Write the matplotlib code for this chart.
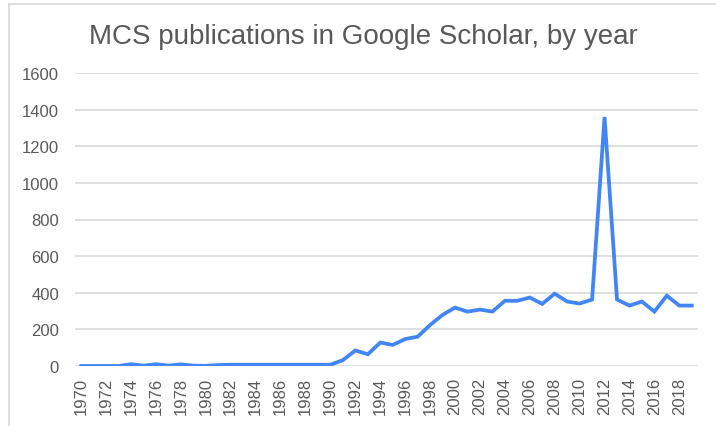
import matplotlib.pyplot as plt
from matplotlib.lines import Line2D

years = list(range(1970, 2020))
pubs = [0, 0, 0, 0, 10, 2, 10, 2, 9, 2,
        1, 5, 7, 7, 7, 7, 7, 7, 7, 7,
        7, 32, 85, 64, 128, 115, 147, 160, 224, 279,
        319, 297, 308, 297, 356, 356, 374, 339, 395, 352,
        341, 363, 1360, 363, 330, 352, 297, 384, 330, 330]
yticks = [0, 200, 400, 600, 800, 1000, 1200, 1400, 1600]

plt.rcParams['font.family'] = ['Liberation Sans', 'DejaVu Sans']
grey = '#595959'

W, H = 716, 427
fig = plt.figure(figsize=(W / 100, H / 100), dpi=100)
ax = fig.add_axes([75 / W, 1 - 367 / H, (698 - 75) / W, (367 - 74) / H])

x = list(range(len(years)))
ax.plot(x, pubs, color='#4285F4', linewidth=2.7, solid_joinstyle='miter', zorder=3)

ax.set_xlim(-0.5, len(years) - 0.5)
ax.set_ylim(0, 1600)
ax.set_yticks(yticks)
ax.set_yticklabels([str(v) for v in yticks])
ax.set_xticks(x[::2])
ax.set_xticklabels([str(y) for y in years[::2]], rotation=90)
ax.tick_params(axis='both', length=0, colors=grey, labelsize=12)
ax.tick_params(axis='y', pad=11.5)
ax.tick_params(axis='x', pad=7.5)
ax.grid(axis='y', color='#d9d9d9', linewidth=1.2)
ax.set_axisbelow(True)
for s in ax.spines.values():
    s.set_visible(False)

fig.text(363 / W, 1 - 37 / H, 'MCS publications in Google Scholar, by year',
         ha='center', va='center', fontsize=20, color=grey)

# outer chart frame (only left and top edges are inside the picture)
fig.add_artist(Line2D([9 / W, 9 / W], [0, 1 - 5 / H], color='#d9d9d9', linewidth=1.2))
fig.add_artist(Line2D([9 / W, 1], [1 - 5 / H, 1 - 5 / H], color='#d9d9d9', linewidth=1.2))

fig.savefig('out.png', dpi=100)
